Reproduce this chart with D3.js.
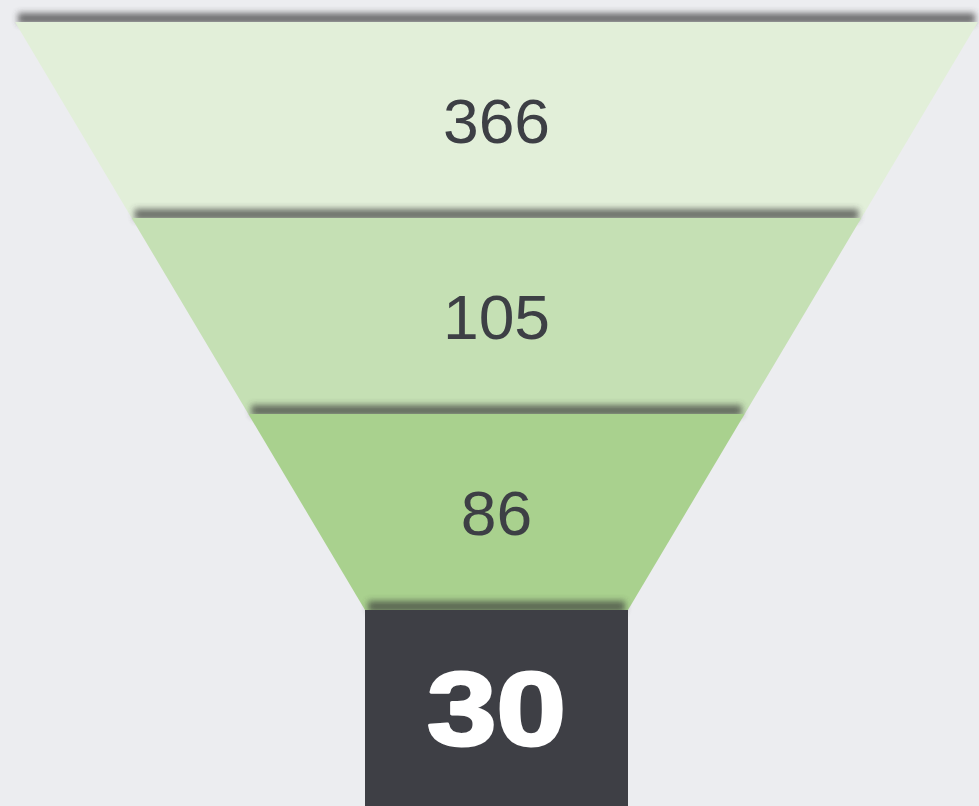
<!DOCTYPE html>
<html>
<head>
<meta charset="utf-8">
<script src="https://cdn.jsdelivr.net/npm/d3@7"></script>
<style>
  html, body { margin: 0; padding: 0; background: #ecedf0; overflow: hidden; }
  text { font-family: "Liberation Sans", Arial, sans-serif; }
</style>
</head>
<body>
<div id="chart"></div>
<script>
const stages = ["s1", "s2", "s3", "s4"];
const values = [366, 105, 86, 30];
const fills = ["#e2efd9", "#c5e0b4", "#a9d18e", "#3e3f45"];

const chart = { width: 979, height: 806 };
const funnelTop = 22, neck = 610, cx = 496.5;

const y = d3.scaleBand().domain(stages).range([funnelTop, chart.height]);
// half width of the funnel as a function of y
const hw = d3.scaleLinear().domain([funnelTop, neck]).range([481.5, 131.5]).clamp(true);

const svg = d3.select("#chart").append("svg")
  .attr("width", chart.width)
  .attr("height", chart.height);

const defs = svg.append("defs");
defs.append("filter").attr("id", "blur")
  .attr("x", "-10%").attr("y", "-200%").attr("width", "120%").attr("height", "500%")
  .append("feGaussianBlur").attr("stdDeviation", 3);

const shape = s => {
  const y0 = y(s), y1 = y0 + y.bandwidth();
  return [[cx - hw(y0), y0], [cx + hw(y0), y0], [cx + hw(y1), y1], [cx - hw(y1), y1]];
};

stages.forEach((s, i) => {
  const y0 = y(s);
  svg.append("rect")
    .attr("x", cx - hw(y0) + 3)
    .attr("y", y0 - 9)
    .attr("width", 2 * hw(y0) - 6)
    .attr("height", 11)
    .attr("fill", "#3a3a3a")
    .attr("opacity", 0.7)
    .attr("filter", "url(#blur)");
  svg.append("path")
    .attr("d", d3.line()(shape(s)) + "Z")
    .attr("fill", fills[i]);
});

const last = stages.length - 1;
svg.selectAll("text.val")
  .data(stages)
  .join("text")
  .attr("class", "val")
  .attr("transform", (s, i) => `translate(${cx},${y(s) + y.bandwidth() / 2}) scale(${i === last ? 1.2 : 1.02},1)`)
  .attr("text-anchor", "middle")
  .attr("dy", "0.358em")
  .attr("fill", (s, i) => i === last ? "#ffffff" : "#3d3f45")
  .attr("stroke", (s, i) => i === last ? "#ffffff" : "none")
  .attr("stroke-width", (s, i) => i === last ? 3 : 0)
  .attr("stroke-linejoin", "round")
  .attr("font-weight", (s, i) => i === last ? "bold" : "normal")
  .attr("font-size", (s, i) => i === last ? 104 : 63)
  .text((s, i) => values[i]);
</script>
</body>
</html>
